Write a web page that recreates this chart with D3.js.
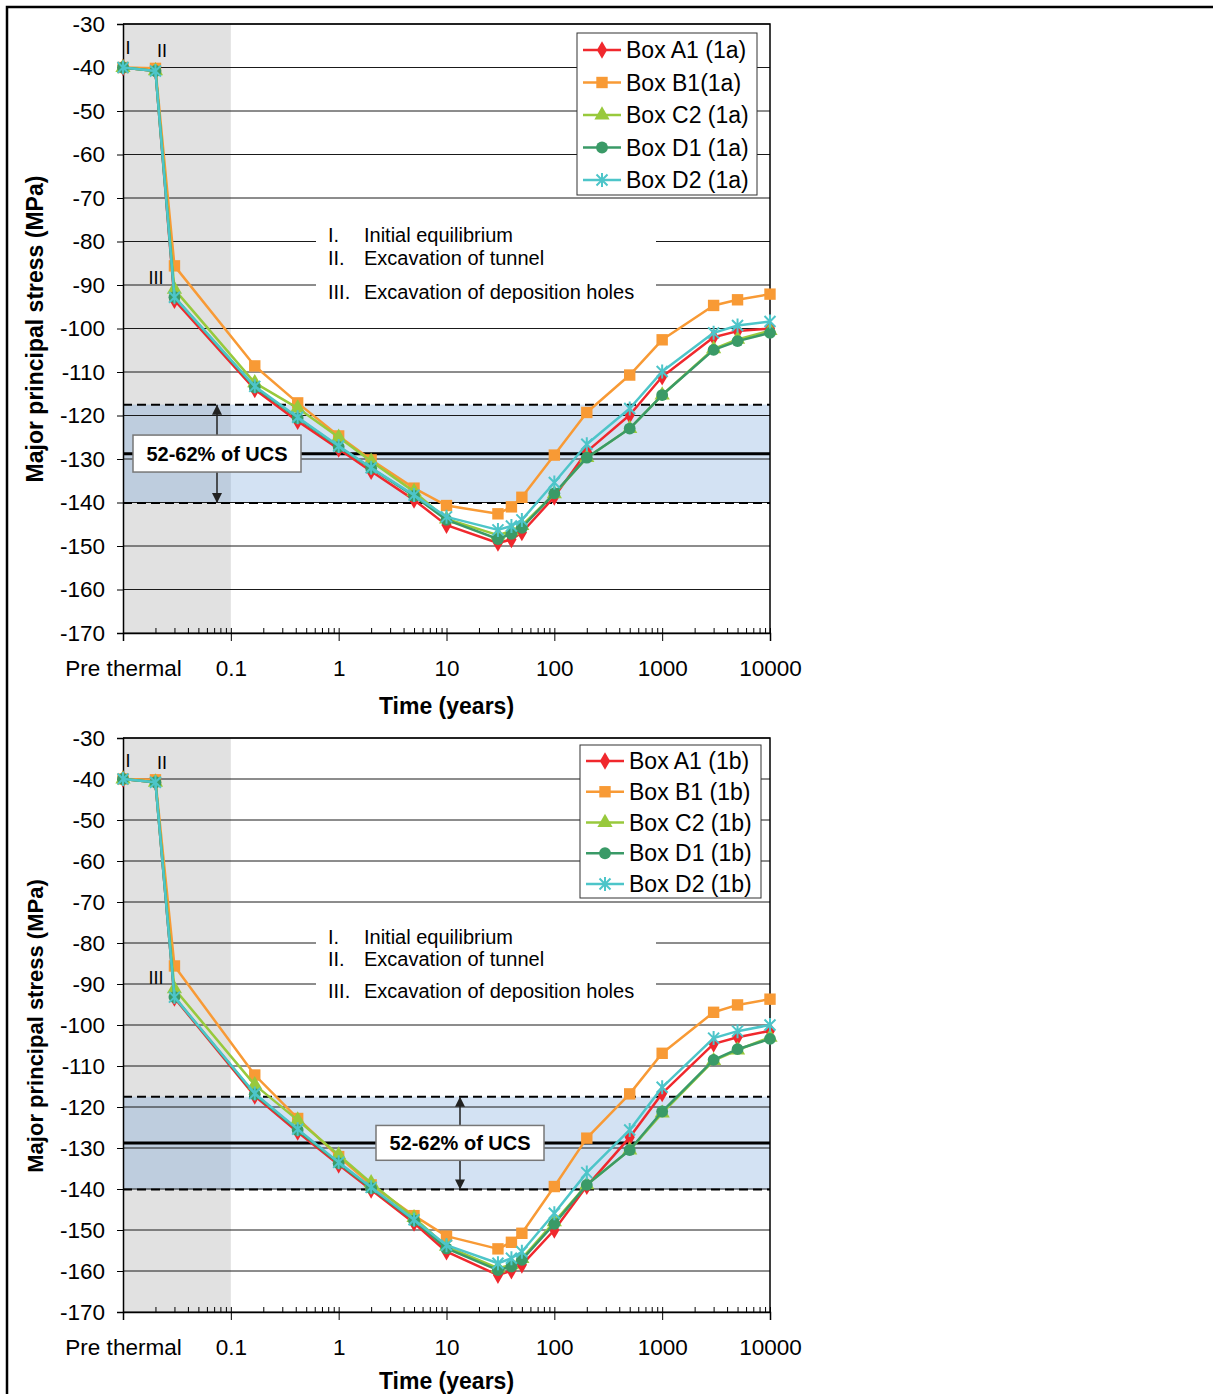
<!DOCTYPE html>
<html>
<head>
<meta charset="utf-8">
<script src="https://cdn.jsdelivr.net/npm/d3@7"></script>
<style>
  body { margin: 0; background: #fff; }
  text { font-family: "Liberation Sans", Arial, sans-serif; fill: #000; }
</style>
</head>
<body>
<script>
// time steps (years); the first three are the pre-thermal steps I, II, III
var times = [0.01, 0.02, 0.03, 0.1667, 0.4167, 1, 2, 5, 10, 30, 40, 50, 100, 200, 500, 1000, 3000, 5000, 10000];

// case 1a
var boxA1_1a = [-40, -40.8, -93.5, -114, -121.3, -127.7, -132.8, -139.4, -145.2, -149.3, -148.5, -146.9, -138.7, -128.3, -119.9, -111.1, -102, -100.6, -100];
var boxB1_1a = [-40, -40.2, -85.6, -108.6, -117.1, -124.7, -130.2, -136.7, -140.7, -142.6, -141, -138.8, -129.1, -119.3, -110.7, -102.6, -94.7, -93.4, -92.1];
var boxC2_1a = [-40, -40.8, -91, -112.5, -118.3, -125, -130.5, -137.5, -143.8, -147.5, -146.5, -145.3, -138, -129.7, -123, -115.3, -104.7, -102.5, -100.5];
var boxD1_1a = [-40, -40.8, -92.8, -113.5, -120.6, -127.2, -132.1, -138.5, -144, -148.4, -147.2, -145.8, -137.9, -129.7, -123, -115.3, -104.9, -102.9, -101];
var boxD2_1a = [-40, -40.8, -92.8, -113.3, -120.4, -127, -132, -138.3, -143.3, -146.3, -145.4, -144, -135.4, -126.6, -118.4, -109.9, -101, -99.3, -98.4];

// case 1b
var boxA1_1b = [-40, -40.8, -93.4, -117.3, -126.1, -134.1, -140.2, -148.3, -155.3, -161, -159.9, -158.5, -150, -139.3, -127.4, -116.7, -104.6, -103, -101.4];
var boxB1_1b = [-40, -40.2, -85.6, -112.2, -122.8, -132.1, -139, -146.5, -151.5, -154.6, -153, -150.8, -139.4, -127.6, -116.8, -106.9, -96.9, -95.1, -93.7];
var boxC2_1b = [-40, -40.8, -91.2, -114.6, -123.2, -131.7, -138.5, -147, -154, -159.3, -158.5, -157, -148, -139, -130.5, -121.5, -108.7, -106.1, -103];
var boxD1_1b = [-40, -40.8, -93.2, -116.9, -125.6, -133.7, -139.8, -147.7, -154.5, -159.8, -158.9, -157.3, -148.5, -139, -130.5, -121.1, -108.5, -105.9, -103.4];
var boxD2_1b = [-40, -40.8, -93.2, -116.7, -125.4, -133.5, -139.6, -147.5, -153.7, -158.1, -156.9, -155.3, -145.9, -136, -125.6, -115.2, -103.2, -101.5, -100];

var names1a = ["Box A1 (1a)", "Box B1(1a)", "Box C2 (1a)", "Box D1 (1a)", "Box D2 (1a)"];
var names1b = ["Box A1 (1b)", "Box B1 (1b)", "Box C2 (1b)", "Box D1 (1b)", "Box D2 (1b)"];
var colors = ["#f0282d", "#f89a35", "#98c93c", "#3a9a67", "#4dc5c9"];
var markers = ["diamond", "square", "triangle", "circle", "asterisk"];

var yTicks = [-30, -40, -50, -60, -70, -80, -90, -100, -110, -120, -130, -140, -150, -160, -170];
var xMajor = [0.01, 0.1, 1, 10, 100, 1000, 10000];
var xLabels = ["Pre thermal", "0.1", "1", "10", "100", "1000", "10000"];
var ucsLines = [-117.5, -128.8, -140.1];   // 52%, 57%, 62% of UCS
var ucsLabel = "52-62% of UCS";
var notes = [["I.", "Initial equilibrium", -78.5], ["II.", "Excavation of tunnel", -83.8], ["III.", "Excavation of deposition holes", -91.6]];
var stages = [["I", 128, -35.5], ["II", 162, -36.2], ["III", 156, -88.5]];

var svg = d3.select("body").append("svg")
    .attr("width", 1213)
    .attr("height", 1394);

// outer frame (top and left)
svg.append("path")
    .attr("d", "M7,1394V7H1213")
    .attr("fill", "none")
    .attr("stroke", "#000")
    .attr("stroke-width", 2.5);

function drawChart(cfg) {
  var g = svg.append("g");
  var x = d3.scaleLog().domain([0.01, 10000]).range([123, 770]);
  var y = d3.scaleLinear().domain([-170, -30]).range([cfg.bottom, cfg.top]);

  // pre-thermal shading
  g.append("rect")
      .attr("x", x(0.01)).attr("y", y(-30))
      .attr("width", x(0.1) - x(0.01)).attr("height", y(-170) - y(-30))
      .attr("fill", "#e1e1e1");

  // UCS band
  g.append("rect")
      .attr("x", x(0.01)).attr("y", y(ucsLines[0]))
      .attr("width", x(10000) - x(0.01)).attr("height", y(ucsLines[2]) - y(ucsLines[0]))
      .attr("fill", "rgb(110,160,215)")
      .attr("fill-opacity", 0.3);

  // gridlines
  g.selectAll(".grid").data(yTicks).enter().append("line")
      .attr("x1", x(0.01)).attr("x2", x(10000))
      .attr("y1", function (d) { return y(d); })
      .attr("y2", function (d) { return y(d); })
      .attr("stroke", "#1a1a1a")
      .attr("stroke-width", 1);

  // white box behind the notes
  g.append("rect")
      .attr("x", 316).attr("y", y(-75))
      .attr("width", 340).attr("height", y(-94.5) - y(-75))
      .attr("fill", "#fff");

  g.selectAll(".noteNum").data(notes).enter().append("text")
      .attr("x", 328).attr("y", function (d) { return y(d[2]); })
      .attr("dominant-baseline", "central")
      .style("font-size", "20px")
      .text(function (d) { return d[0]; });
  g.selectAll(".noteTxt").data(notes).enter().append("text")
      .attr("x", 364).attr("y", function (d) { return y(d[2]); })
      .attr("dominant-baseline", "central")
      .style("font-size", "20px")
      .text(function (d) { return d[1]; });

  // UCS limit lines
  g.selectAll(".ucs").data(ucsLines).enter().append("line")
      .attr("x1", x(0.01)).attr("x2", x(10000))
      .attr("y1", function (d) { return y(d); })
      .attr("y2", function (d) { return y(d); })
      .attr("stroke", "#000")
      .attr("stroke-width", function (d, i) { return i === 1 ? 3 : 2; })
      .attr("stroke-dasharray", function (d, i) { return i === 1 ? null : "9,5"; });

  // plot border right, top
  g.append("path")
      .attr("d", "M" + x(0.01) + "," + y(-30) + "H" + x(10000) + "V" + y(-170))
      .attr("fill", "none").attr("stroke", "#000").attr("stroke-width", 1.5);

  // axes
  var yAxis = g.append("g")
      .attr("transform", "translate(" + x(0.01) + ",0)")
      .call(d3.axisLeft(y).tickValues(yTicks).tickSize(6).tickPadding(12)
        .tickFormat(function (d) { return String(d); }));
  yAxis.selectAll("text").style("font-size", "22.5px");
  yAxis.select(".domain").attr("stroke-width", 1.5);

  var minors = [];
  for (var k = -2; k < 4; k++) {
    for (var m = 2; m < 10; m++) minors.push(m * Math.pow(10, k));
  }
  g.append("g")
      .attr("transform", "translate(0," + y(-170) + ")")
      .call(d3.axisBottom(x).tickValues(minors.concat(xMajor)).tickSize(-5).tickFormat(""))
      .select(".domain").remove();
  var xAxis = g.append("g")
      .attr("transform", "translate(0," + y(-170) + ")")
      .call(d3.axisBottom(x).tickValues(xMajor).tickSize(8).tickPadding(19)
        .tickFormat(function (d, i) { return xLabels[i]; }));
  xAxis.selectAll("text").style("font-size", "22.5px");
  xAxis.select(".domain").attr("stroke-width", 1.5);

  g.append("text")
      .attr("x", x(10)).attr("y", cfg.titleY)
      .attr("text-anchor", "middle")
      .style("font-size", "23px").style("font-weight", "bold")
      .text("Time (years)");
  g.append("text")
      .attr("transform", "translate(43," + cfg.yTitleMid + ") rotate(-90)")
      .attr("text-anchor", "middle")
      .style("font-size", cfg.yTitleSize + "px").style("font-weight", "bold")
      .text("Major principal stress (MPa)");

  // series
  var line = d3.line()
      .x(function (d, i) { return x(times[i]); })
      .y(function (d) { return y(d); });
  cfg.data.forEach(function (vals, s) {
    g.append("path")
        .attr("d", line(vals))
        .attr("fill", "none")
        .attr("stroke", colors[s])
        .attr("stroke-width", 2.5)
        .attr("stroke-linejoin", "round");
    var pts = g.selectAll(".m" + s).data(vals).enter().append("g")
        .attr("transform", function (d, i) { return "translate(" + x(times[i]) + "," + y(d) + ")"; });
    addMarker(pts, markers[s], colors[s]);
  });

  // stage labels
  g.selectAll(".stage").data(stages).enter().append("text")
      .attr("x", function (d) { return d[1]; })
      .attr("y", function (d) { return y(d[2]); })
      .attr("text-anchor", "middle")
      .attr("dominant-baseline", "central")
      .style("font-size", "18px")
      .text(function (d) { return d[0]; });

  // UCS label box with arrows
  var bx = cfg.ucsX, bw = 168;
  var ax = bx + bw / 2;
  var bTop = y(ucsLines[1] + 4.3), bBot = y(ucsLines[1] - 4.2);
  [[bTop, y(ucsLines[0])], [bBot, y(ucsLines[2])]].forEach(function (p) {
    g.append("line").attr("x1", ax).attr("x2", ax)
        .attr("y1", p[0]).attr("y2", p[1])
        .attr("stroke", "#222").attr("stroke-width", 1.5);
    var dir = p[1] < p[0] ? 1 : -1;
    g.append("path")
        .attr("d", "M" + ax + "," + p[1] + "l-5," + (dir * 10) + "h10z")
        .attr("fill", "#222");
  });
  g.append("rect")
      .attr("x", bx).attr("y", bTop)
      .attr("width", bw).attr("height", bBot - bTop)
      .attr("fill", "#fff").attr("stroke", "#777").attr("stroke-width", 1.5);
  g.append("text")
      .attr("x", ax).attr("y", (bTop + bBot) / 2)
      .attr("text-anchor", "middle").attr("dominant-baseline", "central")
      .style("font-size", "20px").style("font-weight", "bold")
      .text(ucsLabel);

  // legend
  var L = cfg.legend;
  var lg = g.append("g").attr("transform", "translate(" + L.x + "," + L.y + ")");
  lg.append("rect")
      .attr("width", L.w).attr("height", L.h)
      .attr("fill", "#fff").attr("stroke", "#333").attr("stroke-width", 1);
  cfg.names.forEach(function (name, s) {
    var ly = L.first + s * L.step;
    lg.append("line").attr("x1", 6).attr("x2", 44).attr("y1", ly).attr("y2", ly)
        .attr("stroke", colors[s]).attr("stroke-width", 2.5);
    addMarker(lg.append("g").attr("transform", "translate(25," + ly + ")"), markers[s], colors[s]);
    lg.append("text").attr("x", 49).attr("y", ly)
        .attr("dominant-baseline", "central")
        .style("font-size", "23px")
        .text(name);
  });
}

function addMarker(sel, type, color) {
  if (type === "asterisk") {
    sel.append("path")
        .attr("d", "M-5.5,-5.5L5.5,5.5M-5.5,5.5L5.5,-5.5M0,-7V7")
        .attr("stroke", color).attr("stroke-width", 2).attr("fill", "none");
    return;
  }
  var sym = { diamond: d3.symbolDiamond, square: d3.symbolSquare, triangle: d3.symbolTriangle, circle: d3.symbolCircle }[type];
  var size = { diamond: 90, square: 130, triangle: 100, circle: 110 }[type];
  sel.append("path")
      .attr("d", d3.symbol().type(sym).size(size)())
      .attr("fill", color);
}

drawChart({
  top: 24, bottom: 633, titleY: 714, yTitleMid: 329, yTitleSize: 23, ucsX: 133,
  names: names1a,
  data: [boxA1_1a, boxB1_1a, boxC2_1a, boxD1_1a, boxD2_1a],
  legend: { x: 577, y: 33, w: 180, h: 162, first: 17, step: 32.5 }
});
drawChart({
  top: 738, bottom: 1312, titleY: 1389, yTitleMid: 1026, yTitleSize: 22, ucsX: 376,
  names: names1b,
  data: [boxA1_1b, boxB1_1b, boxC2_1b, boxD1_1b, boxD2_1b],
  legend: { x: 580, y: 745, w: 181, h: 153, first: 16, step: 30.75 }
});
</script>
</body>
</html>
